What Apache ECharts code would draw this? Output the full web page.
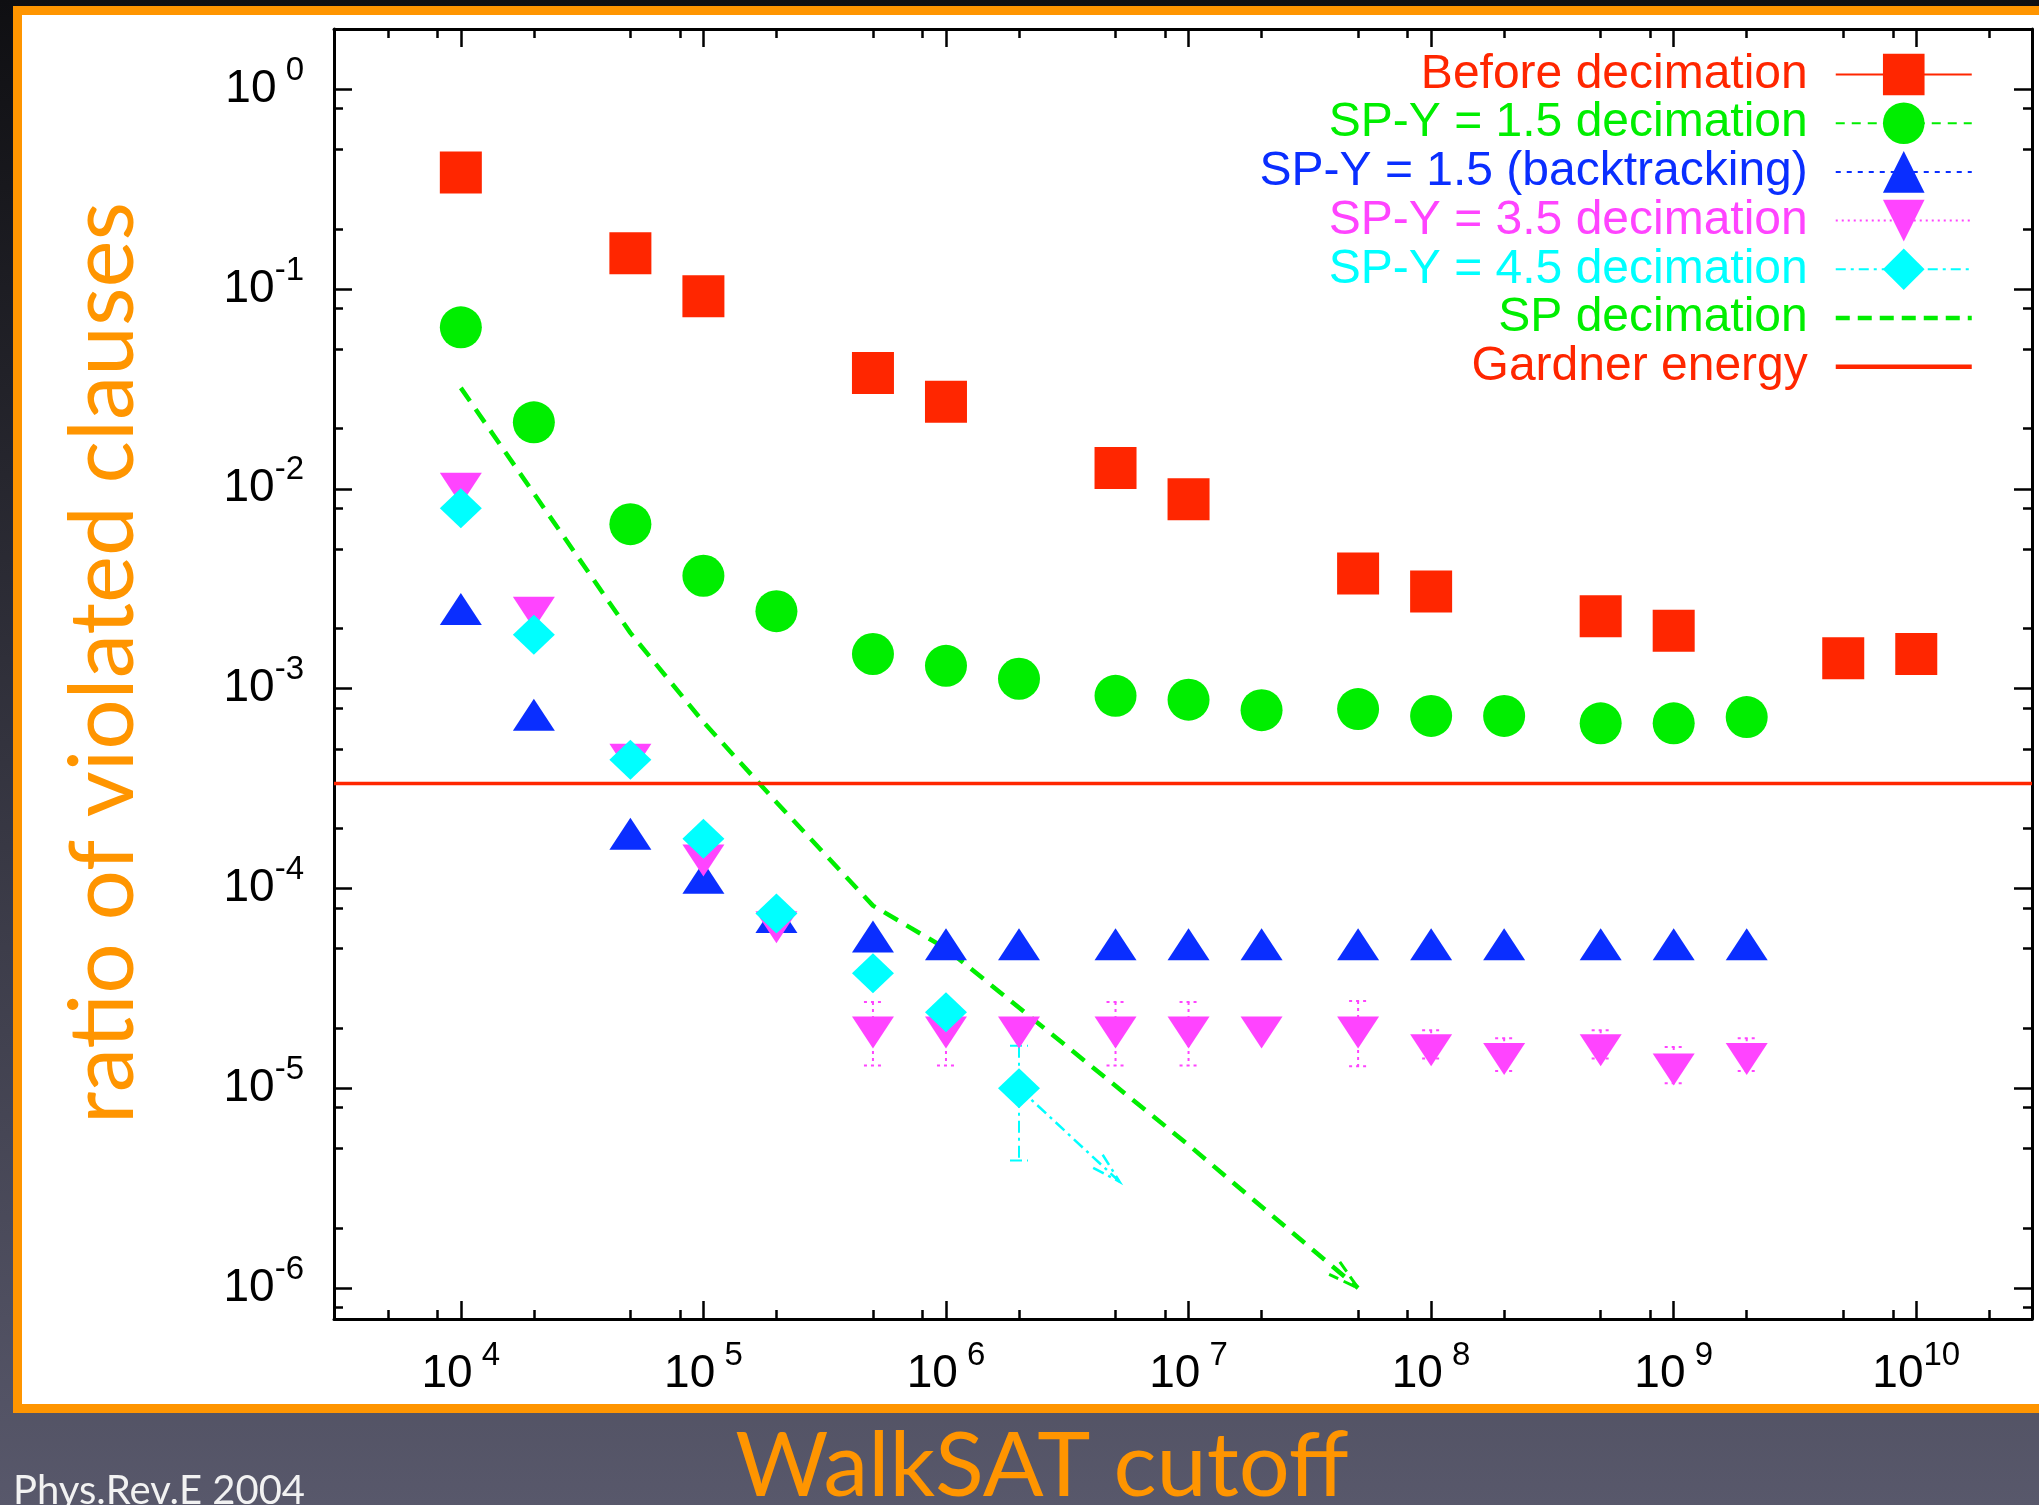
<!DOCTYPE html>
<html>
<head>
<meta charset="utf-8">
<title>ratio of violated clauses vs WalkSAT cutoff</title>
<script src="https://cdn.jsdelivr.net/npm/echarts@6/dist/echarts.min.js"></script>
<style>
  html, body { margin: 0; padding: 0; background: #000; }
  #chart { width: 2039px; height: 1505px; }
</style>
</head>
<body>
<div id="chart"></div>
<script>
// --- data (x = WalkSAT cutoff, y = ratio of violated clauses) ---
const beforeX = [1e4, 5e4, 1e5, 5e5, 1e6, 5e6, 1e7, 5e7, 1e8, 5e8, 1e9, 5e9, 1e10];
const beforeY = [0.383, 0.151, 0.092, 0.038, 0.0273, 0.0127, 0.00887, 0.00377, 0.00306, 0.0023, 0.00195, 0.00142, 0.00149];

const cutoffs = [1e4, 2e4, 5e4, 1e5, 2e5, 5e5, 1e6, 2e6, 5e6, 1e7, 2e7, 5e7, 1e8, 2e8, 5e8, 1e9, 2e9];
const spy15Y = [0.0643, 0.0215, 0.00665, 0.00367, 0.00244, 0.00149, 0.0013, 0.00112, 0.00092, 0.00088, 0.00078, 0.00079, 0.00073, 0.00073, 0.00067, 0.00067, 0.00072];
const backtrackY = [0.0025, 0.00074, 0.000188, 0.000113, 7.2e-5, 5.75e-5, 5.25e-5, 5.25e-5, 5.25e-5, 5.25e-5, 5.25e-5, 5.25e-5, 5.25e-5, 5.25e-5, 5.25e-5, 5.25e-5, 5.25e-5];
const spy35Y = [0.0100, 0.0024, 0.00044, 0.000138, 6.4e-5, 1.9e-5, 1.9e-5, 1.9e-5, 1.9e-5, 1.9e-5, 1.9e-5, 1.9e-5, 1.55e-5, 1.40e-5, 1.55e-5, 1.24e-5, 1.40e-5];

const spy35ErrX = [5e5, 1e6, 5e6, 1e7, 5e7, 1e8, 2e8, 5e8, 1e9, 2e9];
const spy35Lo = [1.3e-5, 1.3e-5, 1.3e-5, 1.3e-5, 1.29e-5, 1.41e-5, 1.22e-5, 1.41e-5, 1.06e-5, 1.22e-5];
const spy35Hi = [2.7e-5, 2.7e-5, 2.7e-5, 2.7e-5, 2.73e-5, 1.95e-5, 1.78e-5, 1.95e-5, 1.61e-5, 1.78e-5];

const spy45X = [1e4, 2e4, 5e4, 1e5, 2e5, 5e5, 1e6, 2e6];
const spy45Y = [0.008, 0.00186, 0.00044, 0.000177, 7.5e-5, 3.76e-5, 2.4e-5, 1.0e-5];
const spy45ErrX = [2e6];
const spy45Lo = [4.35e-6];
const spy45Hi = [1.63e-5];
// trend arrow leaving the last SP-Y = 4.5 point
const spy45ArrowX = [2e6, 5.2e6];
const spy45ArrowY = [1.0e-5, 3.4e-6];

const spX = [1e4, 5e4, 1e5, 2e5, 5e5, 1e6, 1e7, 5e7];
const spY = [0.032, 0.0019, 0.00068, 0.00027, 8.2e-5, 5.0e-5, 5.2e-6, 1.0e-6];

const gardnerEnergy = 3.35e-4;

// --- axes ---
const X_MIN = 3000, X_MAX = 3e10;
const Y_MIN = 7e-7, Y_MAX = 2;
const xMajor = [1e4, 1e5, 1e6, 1e7, 1e8, 1e9, 1e10];
const yMajor = [1e-6, 1e-5, 1e-4, 1e-3, 1e-2, 1e-1, 1];
const minorMults = [2, 5, 8];

function minorTicks(lo, hi) {
  const out = [];
  for (let e = Math.floor(Math.log10(lo)); e <= Math.ceil(Math.log10(hi)); e++) {
    minorMults.forEach(m => {
      const v = m * Math.pow(10, e);
      if (v > lo && v < hi) out.push(v);
    });
  }
  return out;
}
const xMinor = minorTicks(X_MIN, X_MAX);
const yMinor = minorTicks(Y_MIN, Y_MAX);

const RED = '#ff2600', GREEN = '#00ee00', BLUE = '#0a2eff', PINK = '#ff44ff', CYAN = '#00ffff';
const ORANGE = '#ff9500';
const SANS = '"Liberation Sans", Arial, sans-serif';
const SLIDE = 'Lato, "Open Sans", sans-serif';

const tickRich = {
  b: { fontFamily: SANS, fontSize: 46, lineHeight: 46, color: '#000' },
  s: { fontFamily: SANS, fontSize: 33, height: 9, verticalAlign: 'top', color: '#000' }
};

function powLabel(v) {
  const e = Math.round(Math.log10(v));
  return '{b|10}{s|' + String(e).padStart(2, ' ') + '}';
}

function makeAxis(kind, pos, major) {
  const isX = kind === 'x';
  const labels = major && (pos === 'bottom' || pos === 'left');
  return {
    type: 'log',
    min: isX ? X_MIN : Y_MIN,
    max: isX ? X_MAX : Y_MAX,
    position: pos,
    offset: 0,
    axisLine: { show: major, onZero: false, lineStyle: { color: '#000', width: 3 } },
    axisTick: {
      show: true, inside: true, length: major ? 18 : 9,
      customValues: major ? (isX ? xMajor : yMajor) : (isX ? xMinor : yMinor),
      lineStyle: { color: '#000', width: 2.5 }
    },
    axisLabel: {
      show: labels,
      customValues: isX ? xMajor : yMajor,
      formatter: powLabel,
      margin: isX ? 32 : 30,
      rich: tickRich
    },
    splitLine: { show: false },
    minorTick: { show: false }
  };
}

function pairs(xs, ys) {
  return xs.map((x, i) => [x, ys[i]]);
}

function markerSeries(name, xs, ys, color, symbol, size, rotate) {
  return {
    name: name,
    type: 'line',
    data: pairs(xs, ys),
    symbol: symbol,
    symbolSize: size,
    symbolRotate: rotate,
    showSymbol: true,
    showAllSymbol: true,
    itemStyle: { color: color },
    lineStyle: { color: color, opacity: 0 },
    silent: true
  };
}

function errorSeries(xs, lo, hi, color, dash) {
  return {
    type: 'custom',
    data: xs.map((x, i) => [x, lo[i], hi[i]]),
    encode: { x: 0, y: [1, 2] },
    silent: true,
    renderItem: function (params, api) {
      const x = api.value(0);
      const top = api.coord([x, api.value(2)]);
      const bot = api.coord([x, api.value(1)]);
      const hw = 9;
      const st = { stroke: color, lineWidth: 2, lineDash: dash, fill: null };
      return {
        type: 'group',
        children: [
          { type: 'line', shape: { x1: top[0], y1: top[1], x2: bot[0], y2: bot[1] }, style: st },
          { type: 'line', shape: { x1: top[0] - hw, y1: top[1], x2: top[0] + hw, y2: top[1] }, style: st },
          { type: 'line', shape: { x1: bot[0] - hw, y1: bot[1], x2: bot[0] + hw, y2: bot[1] }, style: st }
        ]
      };
    }
  };
}

// open "V" arrow head at the end of a segment, optionally with the segment itself
function arrowSeries(x0, y0, x1, y1, color, dash, width, withLine) {
  return {
    type: 'custom',
    data: [[x0, y0, x1, y1]],
    encode: { x: [0, 2], y: [1, 3] },
    silent: true,
    renderItem: function (params, api) {
      const p0 = api.coord([api.value(0), api.value(1)]);
      const p1 = api.coord([api.value(2), api.value(3)]);
      const dx = p1[0] - p0[0], dy = p1[1] - p0[1];
      const len = Math.sqrt(dx * dx + dy * dy);
      const ux = dx / len, uy = dy / len;
      const L = 32, a = 15 * Math.PI / 180;
      const arm = s => [
        p1[0] - L * (ux * Math.cos(a) - s * uy * Math.sin(a)),
        p1[1] - L * (uy * Math.cos(a) + s * ux * Math.sin(a))
      ];
      const st = { stroke: color, lineWidth: width, lineDash: dash, fill: null };
      const kids = [
        { type: 'polyline', shape: { points: [arm(1), p1, arm(-1)] }, style: st }
      ];
      if (withLine) {
        kids.push({ type: 'line', shape: { x1: p0[0], y1: p0[1], x2: p1[0], y2: p1[1] }, style: st });
      }
      return { type: 'group', children: kids };
    }
  };
}

const chart = echarts.init(document.getElementById('chart'));

chart.setOption({
  animation: false,
  backgroundColor: {
    type: 'linear', x: 0, y: 0, x2: 0, y2: 1,
    colorStops: [
      { offset: 0, color: '#0f0f12' },
      { offset: 1, color: '#58586b' }
    ]
  },
  graphic: {
    elements: [
      {
        type: 'rect', z: -10, silent: true,
        shape: { x: 17.5, y: 10.5, width: 2040, height: 1398 },
        style: { fill: '#ffffff', stroke: ORANGE, lineWidth: 9 }
      },
      {
        type: 'text', x: 1042, y: 1467, silent: true,
        style: {
          text: 'WalkSAT cutoff', fill: ORANGE, fontFamily: SLIDE, fontSize: 90,
          align: 'center', verticalAlign: 'middle', textAlign: 'center', textVerticalAlign: 'middle'
        }
      },
      {
        type: 'text', x: 104.5, y: 663, rotation: Math.PI / 2, silent: true,
        style: {
          text: 'ratio of violated clauses', fill: ORANGE, fontFamily: SLIDE, fontSize: 89,
          align: 'center', verticalAlign: 'middle', textAlign: 'center', textVerticalAlign: 'middle'
        }
      },
      {
        type: 'text', x: 13, y: 1491, silent: true,
        style: {
          text: 'Phys.Rev.E 2004', fill: '#f2f2f2', fontFamily: SLIDE, fontSize: 40,
          align: 'left', verticalAlign: 'middle', textAlign: 'left', textVerticalAlign: 'middle'
        }
      }
    ]
  },
  grid: { left: 334, right: 7, top: 29, bottom: 186, containLabel: false },
  xAxis: [
    makeAxis('x', 'bottom', true),
    makeAxis('x', 'bottom', false),
    makeAxis('x', 'top', true),
    makeAxis('x', 'top', false)
  ],
  yAxis: [
    makeAxis('y', 'left', true),
    makeAxis('y', 'left', false),
    makeAxis('y', 'right', true),
    makeAxis('y', 'right', false)
  ],
  legend: {
    orient: 'vertical',
    align: 'right',
    right: 65,
    top: 50.5,
    padding: 0,
    itemWidth: 136,
    itemHeight: 52,
    itemGap: 0.7,
    selectedMode: false,
    textStyle: { fontFamily: SANS, fontSize: 48, padding: [0, 23, 0, 0] },
    data: [
      { name: 'Before decimation', textStyle: { color: RED }, lineStyle: { color: RED, width: 2, type: 'solid', opacity: 1 } },
      { name: 'SP-Y = 1.5 decimation', textStyle: { color: GREEN }, lineStyle: { color: GREEN, width: 2, type: [9, 7], opacity: 1 } },
      { name: 'SP-Y = 1.5 (backtracking)', textStyle: { color: BLUE }, lineStyle: { color: BLUE, width: 2, type: [5, 6], opacity: 1 } },
      { name: 'SP-Y = 3.5 decimation', textStyle: { color: PINK }, lineStyle: { color: PINK, width: 2, type: [2, 4], opacity: 1 } },
      { name: 'SP-Y = 4.5 decimation', textStyle: { color: CYAN }, lineStyle: { color: CYAN, width: 2, type: [10, 5, 3, 5], opacity: 1 } },
      { name: 'SP decimation', textStyle: { color: GREEN }, itemStyle: { opacity: 0 }, lineStyle: { color: GREEN, width: 4.5, type: [14, 8], opacity: 1 } },
      { name: 'Gardner energy', textStyle: { color: RED }, itemStyle: { opacity: 0 }, lineStyle: { color: RED, width: 4.5, type: 'solid', opacity: 1 } }
    ]
  },
  series: [
    markerSeries('Before decimation', beforeX, beforeY, RED, 'rect', 42, 0),
    markerSeries('SP-Y = 1.5 decimation', cutoffs, spy15Y, GREEN, 'circle', 42, 0),
    markerSeries('SP-Y = 1.5 (backtracking)', cutoffs, backtrackY, BLUE, 'triangle', [42, 32], 0),
    errorSeries(spy35ErrX, spy35Lo, spy35Hi, PINK, [3, 4]),
    markerSeries('SP-Y = 3.5 decimation', cutoffs, spy35Y, PINK, 'triangle', [42, 32], 180),
    errorSeries(spy45ErrX, spy45Lo, spy45Hi, CYAN, [12, 5, 3, 5]),
    arrowSeries(spy45ArrowX[0], spy45ArrowY[0], spy45ArrowX[1], spy45ArrowY[1], CYAN, [12, 5, 3, 5], 2.5, true),
    markerSeries('SP-Y = 4.5 decimation', spy45X, spy45Y, CYAN, 'diamond', [42, 40], 0),
    {
      name: 'SP decimation',
      type: 'line',
      data: pairs(spX, spY),
      symbol: 'none',
      itemStyle: { color: GREEN },
      lineStyle: { color: GREEN, width: 4.5, type: [16, 10] },
      silent: true
    },
    arrowSeries(spX[spX.length - 2], spY[spY.length - 2], spX[spX.length - 1], spY[spY.length - 1], GREEN, [12, 6], 3, false),
    {
      name: 'Gardner energy',
      type: 'line',
      data: [[X_MIN, gardnerEnergy], [X_MAX, gardnerEnergy]],
      symbol: 'none',
      itemStyle: { color: RED },
      lineStyle: { color: RED, width: 3.5 },
      silent: true
    }
  ]
});
</script>
</body>
</html>
